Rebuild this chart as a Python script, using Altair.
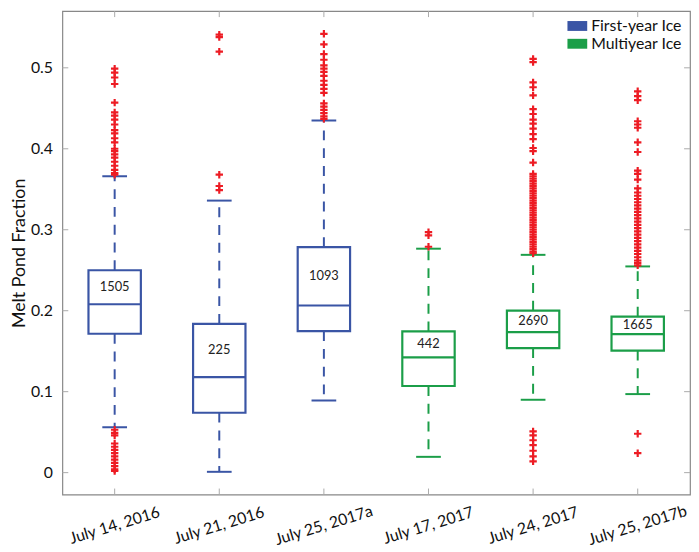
import altair as alt
import pandas as pd

# ---- data ----
cats = ["July 14, 2016", "July 21, 2016", "July 25, 2017a",
        "July 17, 2017", "July 24, 2017", "July 25, 2017b"]
ice = ["First-year Ice", "First-year Ice", "First-year Ice",
       "Multiyear Ice", "Multiyear Ice", "Multiyear Ice"]
lower = [0.056, 0.001, 0.089, 0.0195, 0.090, 0.097]
q1 = [0.1715, 0.074, 0.1748, 0.107, 0.1537, 0.1508]
median = [0.208, 0.118, 0.2064, 0.1423, 0.1736, 0.171]
q3 = [0.250, 0.1837, 0.2786, 0.1744, 0.200, 0.1926]
upper = [0.366, 0.336, 0.435, 0.2766, 0.269, 0.2547]
counts = [1505, 225, 1093, 442, 2690, 1665]

out_c1 = [0.499, 0.494, 0.488, 0.480, 0.457, 0.445, 0.441, 0.436, 0.430,
          0.423, 0.419, 0.413, 0.408, 0.400, 0.397, 0.393, 0.389, 0.384,
          0.379, 0.374, 0.370, 0.368,
          0.053, 0.049, 0.046, 0.036, 0.032, 0.028, 0.024, 0.020, 0.016,
          0.012, 0.008, 0.004, 0.002]
out_c2 = [0.541, 0.538, 0.520, 0.368, 0.354, 0.349]
out_c3 = [0.542, 0.529, 0.517, 0.510, 0.503, 0.499, 0.495, 0.490, 0.484,
          0.479, 0.474, 0.469, 0.456, 0.452, 0.448, 0.444, 0.440, 0.437]
out_c4 = [0.297, 0.293, 0.279]
out_c5 = [0.511, 0.507, 0.482, 0.476, 0.466, 0.449, 0.443, 0.436, 0.431,
          0.425, 0.418, 0.412, 0.401, 0.397, 0.383,
          0.369, 0.366, 0.363, 0.360, 0.357, 0.354, 0.351, 0.348, 0.345,
          0.342, 0.339, 0.336, 0.333, 0.330, 0.327, 0.324, 0.321, 0.318,
          0.315, 0.312, 0.309, 0.306, 0.303, 0.300, 0.297, 0.294, 0.291,
          0.288, 0.285, 0.282, 0.279, 0.276, 0.273, 0.271,
          0.051, 0.046, 0.040, 0.034, 0.027, 0.020, 0.014]
out_c6 = [0.471, 0.465, 0.460, 0.434, 0.430, 0.426, 0.408, 0.396, 0.373,
          0.369, 0.362, 0.351, 0.346, 0.342, 0.338, 0.334, 0.330, 0.326,
          0.322, 0.318, 0.314, 0.310, 0.306, 0.302, 0.298, 0.294, 0.290,
          0.286, 0.282, 0.278, 0.274, 0.270, 0.266, 0.262, 0.259, 0.256,
          0.048, 0.024]
outliers = [out_c1, out_c2, out_c3, out_c4, out_c5, out_c6]

yticks = [0, 0.1, 0.2, 0.3, 0.4, 0.5]
ice_domain = ["First-year Ice", "Multiyear Ice"]
ice_colors = ["#3a55a5", "#1b9e48"]
out_color = "#ed1c24"

# ---- tables ----
stats = pd.DataFrame({"cat": cats, "ice": ice, "lower": lower, "q1": q1,
                      "median": median, "q3": q3, "upper": upper,
                      "n": counts})
out_df = pd.DataFrame([{"cat": c, "v": v} for c, vals in zip(cats, outliers)
                       for v in vals])
ytick_df = pd.DataFrame({"v": yticks})
cat_df = pd.DataFrame({"cat": cats})

W, H = 635, 489
FONT = "Lato"

xscale = alt.Scale(domain=cats, paddingInner=0, paddingOuter=0)
yscale = alt.Scale(domain=[-0.027, 0.57], nice=False, zero=False)
X = alt.X("cat:N", scale=xscale, sort=cats,
          axis=alt.Axis(title=None, labelAngle=-17, labelAlign="center",
                        labelBaseline="middle", labelPadding=31,
                        ticks=False, domain=False, labelFontSize=16,
                        labelFontWeight="normal", labelColor="#111"))

rect_path = "M-1,-0.5H1V0.5H-1Z"
legend = alt.Legend(title=None, orient="none", legendX=511, legendY=5,
                    symbolType=rect_path, symbolSize=400,
                    symbolStrokeWidth=0, symbolOpacity=1,
                    labelFontSize=16, labelOffset=4, rowPadding=-1,
                    padding=0, labelColor="#111", labelFontWeight="normal")
col = alt.Color("ice:N", scale=alt.Scale(domain=ice_domain, range=ice_colors),
                legend=legend)

base = alt.Chart(stats)

boxes = base.mark_bar(size=53, fill="white", strokeWidth=2.2).encode(
    x=X,
    y=alt.Y("q1:Q", scale=yscale,
            axis=alt.Axis(title="Melt Pond Fraction", values=yticks,
                          format=".1~f",
                          ticks=False, domain=False, grid=False,
                          labelFontSize=16, labelPadding=10,
                          labelFontWeight="normal",
                          titleFontSize=18, titleFontWeight="normal",
                          titlePadding=2, labelColor="#111",
                          titleColor="#111")),
    y2="q3:Q",
    stroke=alt.Stroke("ice:N",
                      scale=alt.Scale(domain=ice_domain, range=ice_colors),
                      legend=None),
)

whisk_hi = base.mark_rule(strokeWidth=2, strokeDash=[10, 8]).encode(
    x=X, y=alt.Y("q3:Q", scale=yscale), y2="upper:Q", color=col)
whisk_lo = base.mark_rule(strokeWidth=2, strokeDash=[10, 8]).encode(
    x=X, y=alt.Y("q1:Q", scale=yscale), y2="lower:Q", color=col)
cap_hi = base.mark_tick(size=25, thickness=2, opacity=1).encode(
    x=X, y=alt.Y("upper:Q", scale=yscale), color=col)
cap_lo = base.mark_tick(size=25, thickness=2, opacity=1).encode(
    x=X, y=alt.Y("lower:Q", scale=yscale), color=col)
med = base.mark_tick(size=53, thickness=2.2, opacity=1).encode(
    x=X, y=alt.Y("median:Q", scale=yscale), color=col)
labels = base.transform_calculate(
    ty="(datum.median + datum.q3) / 2").mark_text(
    fontSize=13, color="#222", font=FONT).encode(
    x=X, y=alt.Y("ty:Q", scale=yscale), text="n:Q")

pts = alt.Chart(out_df).mark_point(
    shape="M-1,0H1M0,-1V1", size=56, filled=False, strokeWidth=2.2,
    color=out_color, opacity=1).encode(
    x=X, y=alt.Y("v:Q", scale=yscale))

tick_col = "#aaaaaa"
ytl = alt.Chart(ytick_df).mark_rule(color=tick_col, strokeWidth=1).encode(
    y=alt.Y("v:Q", scale=yscale), x=alt.value(0), x2=alt.value(6))
ytr = alt.Chart(ytick_df).mark_rule(color=tick_col, strokeWidth=1).encode(
    y=alt.Y("v:Q", scale=yscale), x=alt.value(W), x2=alt.value(W - 6))
xtb = alt.Chart(cat_df).mark_rule(color=tick_col, strokeWidth=1).encode(
    x=X, y=alt.value(H), y2=alt.value(H - 6))
xtt = alt.Chart(cat_df).mark_rule(color=tick_col, strokeWidth=1).encode(
    x=X, y=alt.value(0), y2=alt.value(6))

chart = alt.layer(
    ytl, ytr, xtb, xtt,
    whisk_hi, whisk_lo, cap_hi, cap_lo, pts, boxes, med, labels
).properties(
    width=W, height=H,
    autosize=alt.AutoSizeParams(type="none"),
    padding={"left": 55, "right": 1, "top": 0, "bottom": 55},
).configure(
    font=FONT,
).configure_view(
    stroke="#888888", strokeWidth=1.2
)

chart.save("out.html", embed_options={"renderer": "svg", "actions": False})
